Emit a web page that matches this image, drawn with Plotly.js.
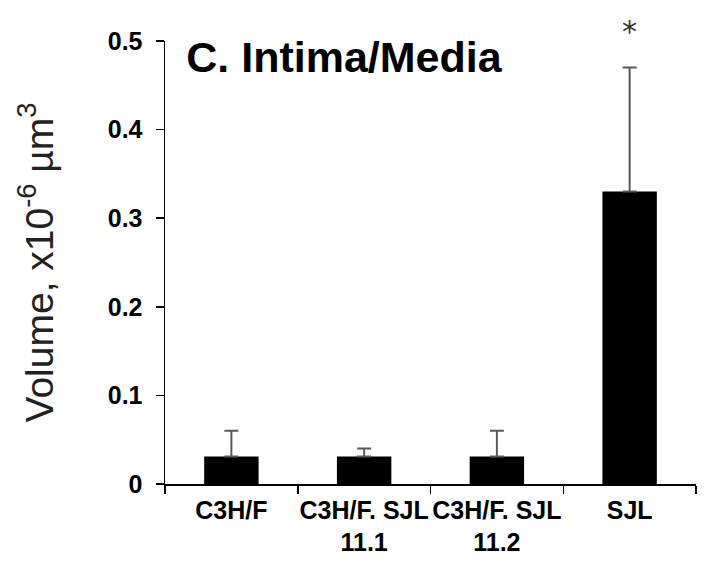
<!DOCTYPE html>
<html>
<head>
<meta charset="utf-8">
<script src="https://cdn.plot.ly/plotly-3.0.1.min.js"></script>
<style>html,body{margin:0;padding:0;background:#fff;}#chart{width:706px;height:563px;}</style>
</head>
<body>
<div id="chart"></div>
<script>
const categories = ["C3H/F", "C3H/F. SJL<br>11.1", "C3H/F. SJL<br>11.2", "SJL"];
const volumes = [0.031, 0.031, 0.031, 0.33];
const errorsUp = [0.029, 0.009, 0.029, 0.14];
const yTickValues = [0, 0.1, 0.2, 0.3, 0.4, 0.5];
const significance = ["", "", "", "*"];

const trace = {
  type: "bar",
  x: categories,
  y: volumes,
  width: 0.41,
  marker: {color: "#000000", line: {width: 0}},
  error_y: {type: "data", symmetric: false, array: errorsUp, arrayminus: [0,0,0,0],
            color: "#5a5a5a", thickness: 2, width: 7},
  hoverinfo: "none"
};

const annotations = [];
significance.forEach((s, i) => {
  if (s) annotations.push({
    x: categories[i], y: volumes[i] + errorsUp[i], xref: "x", yref: "y",
    text: s, showarrow: false, yanchor: "bottom", yshift: 17,
    font: {family: "DejaVu Sans", size: 30, color: "#333333"}
  });
});

const layout = {
  width: 706, height: 563,
  margin: {l: 165, r: 10, t: 41, b: 79, pad: 0},
  paper_bgcolor: "#ffffff", plot_bgcolor: "#ffffff",
  showlegend: false,
  title: {
    text: "<b>C. Intima/Media</b>",
    font: {family: "Liberation Sans", size: 43, color: "#000000"},
    xref: "paper", yref: "paper", x: 0.04, xanchor: "left", y: 0.965, yanchor: "middle"
  },
  xaxis: {
    type: "category", range: [-0.5, 3.5], tickson: "boundaries", tickangle: 0,
    showline: true, linecolor: "#000000", linewidth: 1.5,
    ticks: "outside", ticklen: 8, tickwidth: 1.5, tickcolor: "#000000",
    showgrid: false, zeroline: false, fixedrange: true, automargin: false,
    tickfont: {family: "Liberation Sans", size: 25, color: "#000000", weight: "bold"},
    ticklabelstandoff: 3
  },
  yaxis: {
    range: [0, 0.5], tickvals: yTickValues, ticktext: yTickValues.map(v => String(v)),
    showline: true, linecolor: "#000000", linewidth: 1.5,
    ticks: "outside", ticklen: 8, tickwidth: 1.5, tickcolor: "#000000",
    showgrid: false, zeroline: false, fixedrange: true, automargin: false,
    tickfont: {family: "Liberation Sans", size: 25, color: "#000000", weight: "bold"},
    ticklabelstandoff: 8,
    title: {text: "Volume, x10<sup>-6</sup> µm<sup>3</sup>", standoff: 42,
            font: {family: "Liberation Sans", size: 39, color: "#222222"}}
  },
  annotations: annotations
};

Plotly.newPlot("chart", [trace], layout, {displayModeBar: false, staticPlot: true});
</script>
</body>
</html>
